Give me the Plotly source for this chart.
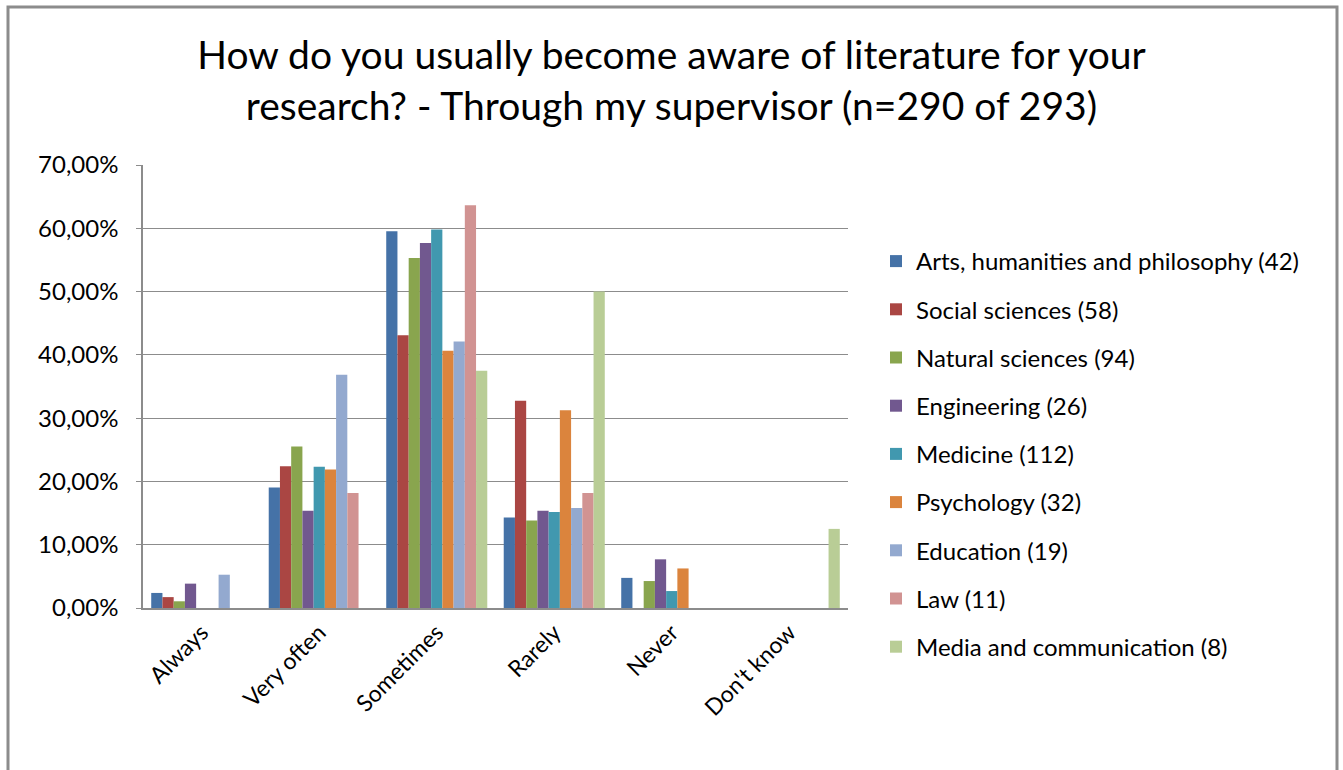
import plotly.graph_objects as go

categories = ["Always", "Very often", "Sometimes", "Rarely", "Never", "Don't know"]

series_names = [
    "Arts, humanities and philosophy (42)",
    "Social sciences (58)",
    "Natural sciences (94)",
    "Engineering (26)",
    "Medicine (112)",
    "Psychology (32)",
    "Education (19)",
    "Law (11)",
    "Media and communication (8)",
]

arts = [2.38, 19.05, 59.52, 14.29, 4.76, 0]
social = [1.72, 22.41, 43.10, 32.76, 0, 0]
natural = [1.06, 25.53, 55.32, 13.83, 4.26, 0]
engineering = [3.85, 15.38, 57.69, 15.38, 7.69, 0]
medicine = [0, 22.32, 59.82, 15.18, 2.68, 0]
psychology = [0, 21.88, 40.63, 31.25, 6.25, 0]
education = [5.26, 36.84, 42.11, 15.79, 0, 0]
law = [0, 18.18, 63.64, 18.18, 0, 0]
media = [0, 0, 37.50, 50.00, 0, 12.50]

series_values = [arts, social, natural, engineering, medicine, psychology, education, law, media]

colors = ["#4572A7", "#AA4643", "#89A54E", "#71588F", "#4198AF",
          "#DB843D", "#93A9CF", "#D19392", "#B9CD96"]

ytick_vals = [0, 10, 20, 30, 40, 50, 60, 70]
ytick_text = ["0,00%", "10,00%", "20,00%", "30,00%", "40,00%", "50,00%", "60,00%", "70,00%"]

FONT = "Lato"

fig = go.Figure()
for i, (name, vals) in enumerate(zip(series_names, series_values)):
    fig.add_trace(go.Bar(
        x=categories, y=vals, name=name,
        marker=dict(color=colors[i], line=dict(width=0)),
        legendgroup=f"g{i}",
    ))

W, H = 1343, 770
L, R, T, B = 143, 1343 - 848, 165, 770 - 608
pw, ph = W - L - R, H - T - B

def px_x(p):
    return (p - L) / pw

def px_y(p):
    return (H - B - p) / ph

fig.update_layout(
    width=W, height=H,
    margin=dict(l=L, r=R, t=T, b=B, autoexpand=False),
    paper_bgcolor="white", plot_bgcolor="white",
    barmode="group", bargap=0.14, bargroupgap=0,
    font=dict(family=FONT, color="#000000"),
    title=dict(
        text="How do you usually become aware of literature for your<br>research? - Through my supervisor (n=290 of 293)",
        x=0.5, xref="container", xanchor="center",
        y=1 - 69 / H, yref="container", yanchor="middle",
        font=dict(family=FONT, size=39, color="#000000"),
    ),
    legend=dict(
        x=px_x(876), xanchor="left", y=px_y(239), yanchor="top",
        font=dict(family=FONT, size=24, color="#000000"),
        tracegroupgap=14, itemwidth=30, bgcolor="rgba(0,0,0,0)",
    ),
    xaxis=dict(
        showline=True, linecolor="#8C8C8C", linewidth=2,
        tickangle=-45, tickfont=dict(family=FONT, size=23, color="#000000"),
        ticks="", showgrid=False,
    ),
    yaxis=dict(
        range=[0, 70], tickvals=ytick_vals, ticktext=ytick_text,
        showline=True, linecolor="#8C8C8C", linewidth=1.5,
        ticks="outside", ticklen=5, tickcolor="#8C8C8C",
        showgrid=True, gridcolor="#8C8C8C", gridwidth=1.2,
        tickfont=dict(family=FONT, size=24, color="#000000"),
        zeroline=False, ticklabelstandoff=13,
    ),
    shapes=[
        dict(type="rect", xref="paper", yref="paper",
             x0=px_x(8), x1=px_x(1337), y0=px_y(800), y1=px_y(7),
             line=dict(color="#8C8C8C", width=3), fillcolor="rgba(0,0,0,0)",
             layer="below"),
    ],
)

fig.write_html("out.html", config={"displayModeBar": False},
               post_script="document.body.style.margin='0';document.body.style.overflow='hidden';")
